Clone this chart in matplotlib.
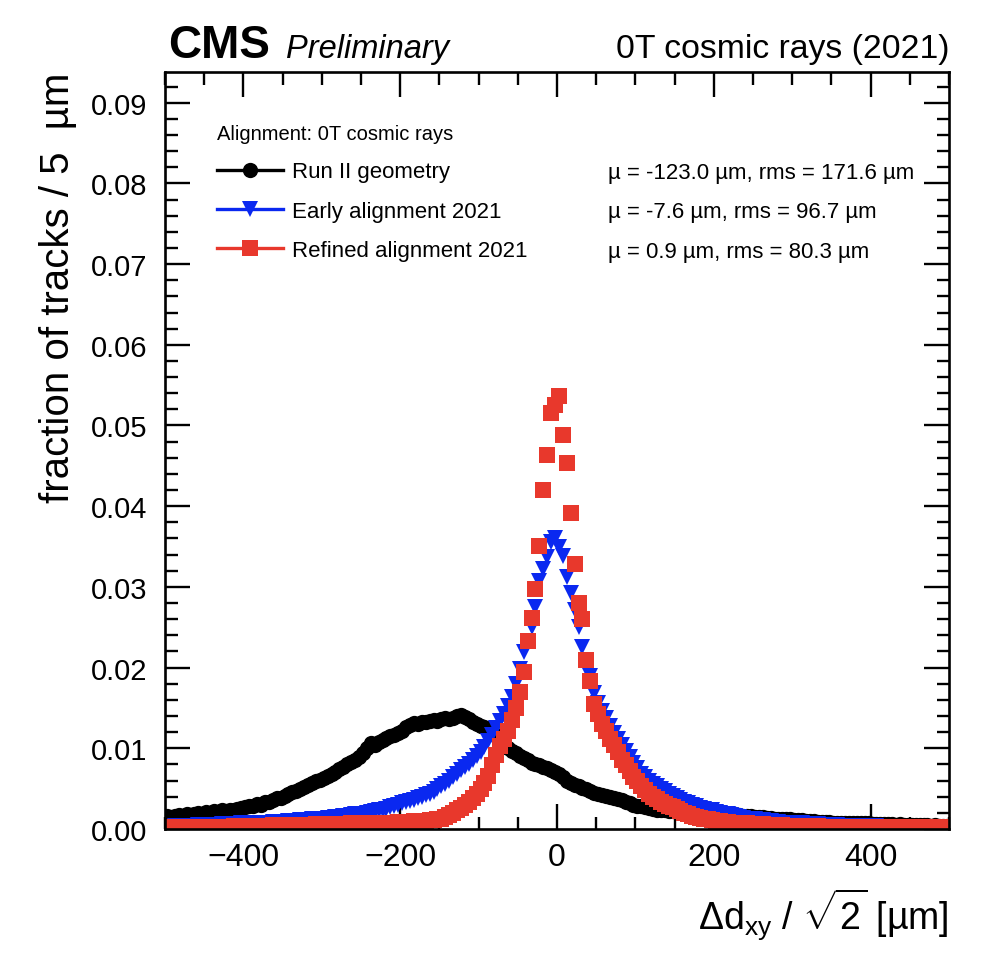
import numpy as np
import matplotlib
matplotlib.use("Agg")
import matplotlib.pyplot as plt
from matplotlib.ticker import MultipleLocator, FormatStrFormatter
from matplotlib.lines import Line2D

plt.rcParams["font.family"] = ["Liberation Sans", "DejaVu Sans"]
plt.rcParams["mathtext.fontset"] = "custom"
plt.rcParams["mathtext.rm"] = "Liberation Sans"
plt.rcParams["mathtext.it"] = "Liberation Sans:italic"
plt.rcParams["mathtext.bf"] = "Liberation Sans:bold"

# 5 um bins from -500 to 500
bin_width = 5
bin_centers = np.arange(-500 + bin_width / 2, 500, bin_width)

# Run II geometry
run2 = [
    0.0016, 0.0015, 0.0016, 0.0017, 0.0016, 0.0018, 0.0017, 0.0019, 0.0020, 0.0019,
    0.0021, 0.0020, 0.0022, 0.0021, 0.0023, 0.0022, 0.0024, 0.0023, 0.0025, 0.0026,
    0.0027, 0.0028, 0.0029, 0.0031, 0.0030, 0.0033, 0.0034, 0.0036, 0.0038, 0.0039,
    0.0041, 0.0043, 0.0046, 0.0047, 0.0050, 0.0052, 0.0054, 0.0057, 0.0059, 0.0061,
    0.0063, 0.0066, 0.0068, 0.0071, 0.0074, 0.0077, 0.0080, 0.0083, 0.0086, 0.0089,
    0.0094, 0.0100, 0.0106, 0.0104, 0.0108, 0.0110, 0.0113, 0.0115, 0.0117, 0.0119,
    0.0122, 0.0126, 0.0129, 0.0131, 0.0130, 0.0132, 0.0133, 0.0134, 0.0135, 0.0134,
    0.0136, 0.0137, 0.0136, 0.0138, 0.0140, 0.0141, 0.0139, 0.0136, 0.0133, 0.0130,
    0.0128, 0.0126, 0.0123, 0.0120, 0.0117, 0.0112, 0.0106, 0.0100, 0.0097, 0.0094,
    0.0091, 0.0088, 0.0085, 0.0082, 0.0080, 0.0079, 0.0077, 0.0075, 0.0073, 0.0071,
    0.0068, 0.0064, 0.0060, 0.0057, 0.0055, 0.0053, 0.0051, 0.0049, 0.0047, 0.0045,
    0.0043, 0.0042, 0.0041, 0.0040, 0.0038, 0.0037, 0.0036, 0.0034, 0.0032, 0.0030,
    0.0029, 0.0028, 0.0027, 0.0026, 0.0025, 0.0024, 0.0023, 0.0023, 0.0022, 0.0022,
    0.0021, 0.0021, 0.0021, 0.0020, 0.0021, 0.0020, 0.0020, 0.0020, 0.0019, 0.0020,
    0.0019, 0.0019, 0.0018, 0.0018, 0.0017, 0.0018, 0.0017, 0.0016, 0.0016, 0.0016,
    0.0015, 0.0015, 0.0015, 0.0014, 0.0014, 0.0013, 0.0013, 0.0013, 0.0012, 0.0012,
    0.0011, 0.0011, 0.0011, 0.0010, 0.0010, 0.0010, 0.0009, 0.0009, 0.0009, 0.0009,
    0.0008, 0.0008, 0.0008, 0.0008, 0.0007, 0.0007, 0.0007, 0.0007, 0.0007, 0.0007,
    0.0006, 0.0006, 0.0006, 0.0006, 0.0006, 0.0006, 0.0005, 0.0006, 0.0005, 0.0005,
    0.0005, 0.0005, 0.0005, 0.0005, 0.0005, 0.0004, 0.0005, 0.0004, 0.0004, 0.0004,
]

# Early alignment 2021
early = [
    0.0003, 0.0003, 0.0004, 0.0003, 0.0004, 0.0004, 0.0004, 0.0004, 0.0005, 0.0005,
    0.0005, 0.0005, 0.0005, 0.0005, 0.0006, 0.0006, 0.0006, 0.0006, 0.0006, 0.0007,
    0.0007, 0.0007, 0.0007, 0.0008, 0.0008, 0.0008, 0.0008, 0.0009, 0.0009, 0.0009,
    0.0009, 0.0010, 0.0010, 0.0010, 0.0011, 0.0011, 0.0011, 0.0012, 0.0012, 0.0013,
    0.0013, 0.0014, 0.0014, 0.0015, 0.0015, 0.0016, 0.0016, 0.0017, 0.0018, 0.0019,
    0.0019, 0.0020, 0.0021, 0.0022, 0.0023, 0.0024, 0.0025, 0.0027, 0.0028, 0.0030,
    0.0032, 0.0033, 0.0035, 0.0036, 0.0038, 0.0040, 0.0042, 0.0044, 0.0046, 0.0049,
    0.0053, 0.0056, 0.0060, 0.0064, 0.0068, 0.0073, 0.0077, 0.0081, 0.0085, 0.0090,
    0.0096, 0.0102, 0.0109, 0.0117, 0.0125, 0.0134, 0.0143, 0.0152, 0.0163, 0.0180,
    0.0198, 0.0219, 0.0232, 0.0250, 0.0275, 0.0307, 0.0322, 0.0337, 0.0356, 0.0360,
    0.0350, 0.0338, 0.0312, 0.0293, 0.0272, 0.0250, 0.0225, 0.0205, 0.0190, 0.0168,
    0.0156, 0.0146, 0.0137, 0.0128, 0.0119, 0.0111, 0.0104, 0.0097, 0.0089, 0.0082,
    0.0075, 0.0068, 0.0064, 0.0060, 0.0056, 0.0053, 0.0050, 0.0047, 0.0044, 0.0041,
    0.0038, 0.0036, 0.0034, 0.0032, 0.0030, 0.0028, 0.0026, 0.0025, 0.0024, 0.0023,
    0.0021, 0.0020, 0.0019, 0.0018, 0.0017, 0.0016, 0.0015, 0.0014, 0.0013, 0.0013,
    0.0012, 0.0011, 0.0011, 0.0010, 0.0010, 0.0009, 0.0009, 0.0008, 0.0008, 0.0008,
    0.0007, 0.0007, 0.0007, 0.0006, 0.0006, 0.0006, 0.0006, 0.0005, 0.0005, 0.0005,
    0.0005, 0.0005, 0.0004, 0.0004, 0.0004, 0.0004, 0.0004, 0.0004, 0.0004, 0.0003,
    0.0003, 0.0004, 0.0003, 0.0003, 0.0003, 0.0003, 0.0003, 0.0003, 0.0003, 0.0003,
    0.0003, 0.0003, 0.0002, 0.0003, 0.0002, 0.0002, 0.0002, 0.0002, 0.0002, 0.0002,
]

# Refined alignment 2021
refined = [
    0.0002, 0.0002, 0.0003, 0.0002, 0.0002, 0.0003, 0.0002, 0.0003, 0.0003, 0.0002,
    0.0003, 0.0003, 0.0003, 0.0003, 0.0003, 0.0003, 0.0003, 0.0004, 0.0003, 0.0004,
    0.0004, 0.0004, 0.0004, 0.0004, 0.0004, 0.0004, 0.0004, 0.0005, 0.0004, 0.0005,
    0.0005, 0.0005, 0.0005, 0.0005, 0.0005, 0.0005, 0.0005, 0.0005, 0.0006, 0.0005,
    0.0006, 0.0006, 0.0006, 0.0006, 0.0006, 0.0006, 0.0006, 0.0007, 0.0006, 0.0007,
    0.0007, 0.0007, 0.0007, 0.0007, 0.0007, 0.0008, 0.0008, 0.0008, 0.0008, 0.0009,
    0.0009, 0.0009, 0.0009, 0.0010, 0.0010, 0.0010, 0.0010, 0.0011, 0.0011, 0.0012,
    0.0013, 0.0015, 0.0017, 0.0020, 0.0023, 0.0026, 0.0030, 0.0033, 0.0038, 0.0043,
    0.0050, 0.0057, 0.0066, 0.0079, 0.0092, 0.0103, 0.0112, 0.0122, 0.0135, 0.0150,
    0.0170, 0.0195, 0.0233, 0.0262, 0.0297, 0.0351, 0.0420, 0.0464, 0.0515, 0.0525,
    0.0537, 0.0488, 0.0454, 0.0391, 0.0328, 0.0280, 0.0260, 0.0210, 0.0183, 0.0155,
    0.0142, 0.0130, 0.0122, 0.0112, 0.0104, 0.0095, 0.0086, 0.0079, 0.0072, 0.0065,
    0.0059, 0.0053, 0.0048, 0.0044, 0.0040, 0.0037, 0.0034, 0.0031, 0.0029, 0.0027,
    0.0025, 0.0022, 0.0020, 0.0018, 0.0016, 0.0015, 0.0014, 0.0013, 0.0012, 0.0011,
    0.0010, 0.0010, 0.0009, 0.0009, 0.0008, 0.0008, 0.0007, 0.0007, 0.0007, 0.0006,
    0.0006, 0.0006, 0.0006, 0.0005, 0.0005, 0.0005, 0.0005, 0.0005, 0.0004, 0.0004,
    0.0004, 0.0004, 0.0004, 0.0004, 0.0004, 0.0003, 0.0004, 0.0003, 0.0003, 0.0003,
    0.0003, 0.0003, 0.0003, 0.0003, 0.0003, 0.0003, 0.0003, 0.0003, 0.0002, 0.0003,
    0.0002, 0.0003, 0.0002, 0.0002, 0.0002, 0.0002, 0.0002, 0.0002, 0.0002, 0.0002,
    0.0002, 0.0002, 0.0002, 0.0002, 0.0002, 0.0002, 0.0002, 0.0002, 0.0002, 0.0002,
]

labels = ["Run II geometry", "Early alignment 2021", "Refined alignment 2021"]
stats = [
    "\u00b5 = -123.0 \u00b5m, rms = 171.6 \u00b5m",
    "\u00b5 = -7.6 \u00b5m, rms = 96.7 \u00b5m",
    "\u00b5 = 0.9 \u00b5m, rms = 80.3 \u00b5m",
]
colors = ["black", "#0a28f0", "#e8382c"]
markers = ["o", "v", "s"]
msizes = [11, 11.5, 11]

fig = plt.figure(figsize=(9.86, 9.62), dpi=100)
ax = fig.add_axes([0.1673, 0.1372, 0.7952, 0.7869])

series = [run2, early, refined]
for vals, col, mk, ms in zip(series, colors, markers, msizes):
    ax.plot(bin_centers, vals, linestyle="none", marker=mk, markersize=ms,
            color=col, markeredgewidth=0)

ax.set_xlim(-500, 500)
ax.set_ylim(0, 0.0938)
ax.xaxis.set_major_locator(MultipleLocator(200))
ax.xaxis.set_minor_locator(MultipleLocator(50))
ax.yaxis.set_major_locator(MultipleLocator(0.01))
ax.yaxis.set_minor_locator(MultipleLocator(0.002))
ax.yaxis.set_major_formatter(FormatStrFormatter("%.2f"))

ax.tick_params(which="both", direction="in", top=True, right=True, width=1.7)
ax.tick_params(which="major", length=18)
ax.tick_params(which="minor", length=9)
ax.tick_params(axis="y", pad=13, labelsize=21)
ax.tick_params(axis="x", pad=9, labelsize=23)
for sp in ax.spines.values():
    sp.set_linewidth(1.9)

ax.set_xlabel("\u0394d$_{\\mathregular{xy}}$ / $\\sqrt{\\mathregular{2}}$ [\u00b5m]",
              fontsize=27, loc="right", labelpad=10)
ax.set_ylabel("fraction of tracks / 5  \u00b5m", fontsize=29, loc="top",
              labelpad=10)

# header
ax.text(0.004, 1.02, "CMS", transform=ax.transAxes, fontsize=33,
        fontweight="bold", ha="left", va="baseline")
ax.text(0.154, 1.02, "Preliminary", transform=ax.transAxes, fontsize=23.5,
        fontstyle="italic", ha="left", va="baseline")
ax.text(1.0, 1.02, "0T cosmic rays (2021)", transform=ax.transAxes,
        fontsize=24.3, ha="right", va="baseline")

# legend
handles = [Line2D([], [], color=c, marker=m, markersize=ms, lw=2.4,
                  markeredgewidth=0)
           for c, m, ms in zip(colors, markers, msizes)]
leg = ax.legend(handles, labels, title="Alignment: 0T cosmic rays",
                loc="upper left", bbox_to_anchor=(0.066, 0.931),
                frameon=False, fontsize=16, title_fontsize=14.5,
                handlelength=3.0, handletextpad=0.38, labelspacing=0.82,
                borderpad=0, borderaxespad=0, alignment="left")

row_y = [0.867, 0.8157, 0.763]
for txt, yy in zip(stats, row_y):
    ax.text(0.565, yy, txt, transform=ax.transAxes, fontsize=16,
            ha="left", va="center")

fig.savefig("out.png", dpi=100)
